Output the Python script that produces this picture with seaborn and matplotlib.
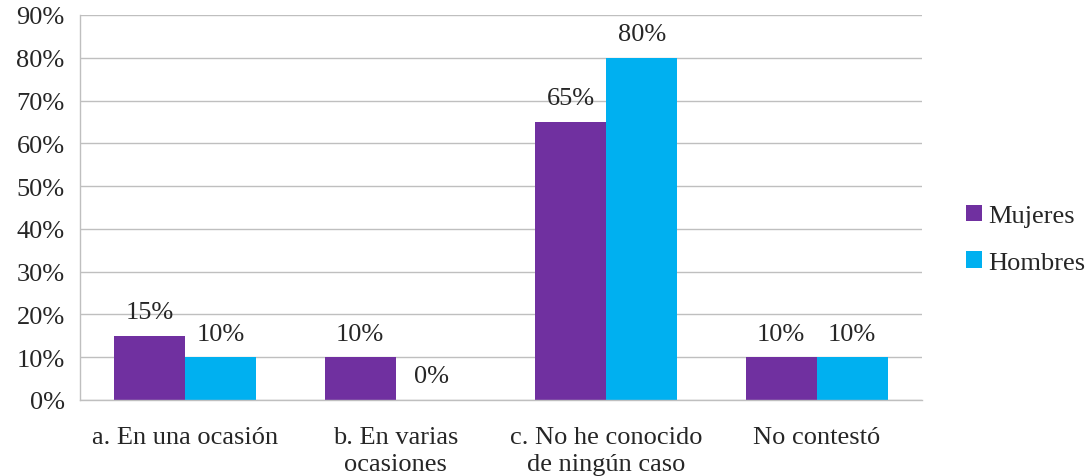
import matplotlib
matplotlib.use("Agg")
import matplotlib.pyplot as plt
import seaborn as sns
import pandas as pd

categories = ["a. En una ocasión", "b. En varias\nocasiones", "c. No he conocido\nde ningún caso", "No contestó"]
series_names = ["Mujeres", "Hombres"]
mujeres = [15, 10, 65, 10]
hombres = [10, 0, 80, 10]
y_ticks = [0, 10, 20, 30, 40, 50, 60, 70, 80, 90]

df = pd.DataFrame({
    "cat": categories * 2,
    "serie": [series_names[0]] * 4 + [series_names[1]] * 4,
    "val": mujeres + hombres,
})

sns.set_style("white")
plt.rcParams["font.family"] = ["Liberation Serif", "DejaVu Serif"]

FS = 19
fig = plt.figure(figsize=(10.88, 4.77), dpi=100)
ax = fig.add_axes([80/1088, 76/477, (922-80)/1088, (401-16)/477])

palette = {"Mujeres": "#7030A0", "Hombres": "#00B0F0"}
sns.barplot(data=df, x="cat", y="val", hue="serie", palette=palette, ax=ax,
            width=0.675, saturation=1, order=categories, hue_order=series_names,
            linewidth=0)

ax.set_ylim(0, 90)
ax.set_xlim(-0.5, 3.5)
ax.set_yticks(y_ticks)
ax.set_yticklabels([f"{v}%" for v in y_ticks])
ax.grid(axis="y", color="#BFBFBF", linewidth=1)
ax.set_axisbelow(True)
for s in ["top", "right"]:
    ax.spines[s].set_visible(False)
ax.spines["left"].set_color("#BFBFBF")
ax.spines["bottom"].set_color("#BFBFBF")
ax.spines["left"].set_linewidth(1)
ax.spines["bottom"].set_linewidth(1)

ax.set_xticks([i for i in range(4)])
ax.set_xticklabels(categories, fontsize=FS, linespacing=1.3)
ax.tick_params(axis="x", length=0, pad=19)
ax.tick_params(axis="y", length=7, color="#BFBFBF", labelsize=FS, pad=4)
ax.set_xticks([-0.5, 0.5, 1.5, 2.5, 3.5], minor=True)
ax.tick_params(axis="x", which="minor", length=8, color="#BFBFBF", width=1)

ax.set_xlabel("")
ax.set_ylabel("")

for cont in ax.containers:
    ax.bar_label(cont, labels=[f"{int(round(v))}%" for v in cont.datavalues],
                 padding=9, fontsize=FS)

leg = ax.legend(loc="center left", bbox_to_anchor=(1.052, 0.418), frameon=False,
                fontsize=FS, handlelength=0.6, handleheight=0.6, handletextpad=0.25,
                labelspacing=0.9, borderpad=0, borderaxespad=0)

fig.savefig("out.png", dpi=100)
